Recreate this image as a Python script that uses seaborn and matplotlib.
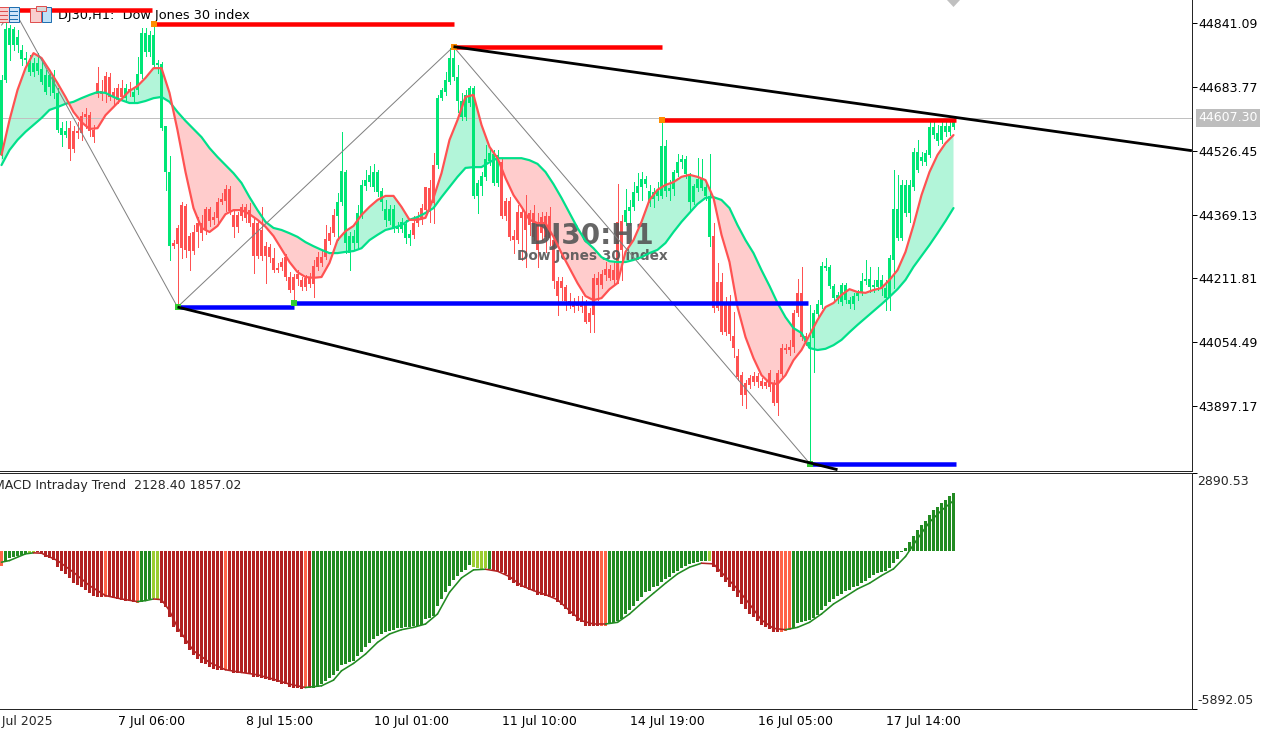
import numpy as np
import pandas as pd
import matplotlib
matplotlib.use('Agg')
import matplotlib.pyplot as plt
from matplotlib.patches import Rectangle, Polygon
import seaborn as sns

# candle prices, one value per H1 bar
body_high = [44701,44827,44829,44827,44807,44775,44755,44743,44743,44743,44728,44713,44713,44713,44669,44582,44575,44582,44575,44575,
44612,44617,44614,44577,44693,44674,44711,44708,44671,44681,44681,44681,44679,44671,44716,44817,44817,44812,44812,44743,
44740,44587,44474,44299,44336,44393,44390,44316,44326,44349,44349,44383,44383,44363,44400,44407,44432,44432,44368,44368,
44388,44388,44380,44349,44349,44331,44291,44289,44262,44237,44252,44265,44215,44215,44222,44208,44213,44215,44242,44265,
44265,44309,44324,44368,44400,44476,44474,44316,44316,44373,44442,44454,44467,44474,44474,44427,44383,44383,44383,44339,
44351,44346,44321,44349,44361,44385,44437,44435,44491,44656,44676,44701,44755,44755,44708,44649,44664,44681,44681,44447,
44464,44506,44521,44518,44516,44498,44402,44402,44316,44375,44375,44375,44373,44373,44351,44363,44366,44366,44306,44205,
44205,44191,44156,44146,44151,44153,44153,44127,44213,44213,44222,44235,44235,44232,44351,44353,44380,44388,44425,44440,
44457,44457,44427,44425,44430,44538,44538,44435,44474,44498,44506,44506,44467,44440,44457,44457,44437,44415,44316,44203,
44203,44146,44146,44070,44020,43973,43954,43966,43971,43971,43959,43956,43979,43954,43979,44040,44040,44042,44127,44176,
44176,44070,44055,44127,44148,44242,44242,44240,44193,44171,44195,44195,44158,44168,44176,44205,44210,44210,44195,44208,
44208,44188,44262,44383,44383,44442,44442,44442,44523,44523,44511,44521,44585,44585,44570,44587,44587,44587,44597]
body_low = [44516,44701,44787,44787,44787,44752,44750,44720,44720,44723,44696,44671,44683,44669,44577,44565,44565,44531,44531,44570,
44570,44609,44575,44560,44666,44666,44669,44659,44659,44651,44659,44656,44671,44659,44676,44716,44770,44770,44738,44738,
44582,44474,44291,44291,44296,44286,44282,44279,44279,44326,44324,44331,44353,44356,44361,44400,44402,44378,44339,44339,
44366,44361,44349,44267,44267,44267,44267,44265,44232,44232,44240,44215,44183,44183,44210,44191,44191,44198,44198,44240,
44250,44265,44304,44324,44366,44400,44299,44274,44299,44299,44368,44440,44449,44437,44425,44400,44356,44353,44333,44333,
44333,44311,44311,44319,44349,44356,44380,44375,44398,44491,44656,44671,44696,44708,44649,44609,44609,44644,44415,44415,
44440,44462,44501,44447,44447,44366,44366,44314,44306,44306,44361,44331,44343,44314,44282,44324,44314,44311,44205,44168,
44188,44156,44151,44141,44144,44141,44104,44104,44121,44195,44195,44220,44213,44208,44208,44282,44351,44378,44388,44422,
44437,44444,44398,44407,44415,44415,44427,44427,44432,44471,44498,44469,44400,44400,44435,44435,44415,44314,44139,44139,
44079,44079,44075,44040,43968,43924,43924,43949,43956,43956,43946,43946,43944,43904,43904,43976,44035,44035,44042,44127,
44067,44055,44040,44065,44124,44146,44237,44193,44163,44163,44153,44158,44148,44148,44168,44178,44205,44191,44191,44191,
44188,44163,44163,44257,44311,44311,44373,44373,44437,44479,44501,44498,44516,44565,44550,44553,44573,44573,44585]
wick_high = [44713,44849,44836,44831,44824,44787,44770,44762,44755,44767,44745,44725,44725,44725,44681,44597,44599,44599,44587,44597,
44622,44632,44622,44590,44733,44701,44720,44718,44681,44691,44701,44691,44696,44681,44757,44829,44829,44822,44836,44750,
44745,44587,44513,44306,44343,44400,44395,44323,44343,44363,44368,44388,44388,44375,44410,44422,44442,44440,44380,44375,
44395,44395,44398,44363,44356,44388,44301,44296,44287,44250,44262,44272,44227,44222,44232,44215,44220,44225,44257,44277,
44282,44343,44339,44383,44422,44573,44479,44326,44331,44393,44454,44479,44489,44494,44479,44435,44405,44393,44393,44351,
44361,44356,44331,44366,44375,44395,44437,44454,44521,44664,44681,44720,44780,44782,44738,44669,44676,44686,44686,44454,
44474,44540,44533,44528,44528,44508,44410,44412,44331,44393,44385,44417,44380,44393,44373,44375,44375,44388,44319,44215,
44215,44195,44176,44163,44168,44168,44158,44139,44222,44227,44232,44252,44245,44252,44444,44368,44432,44405,44449,44471,
44474,44464,44442,44435,44449,44605,44553,44454,44479,44518,44516,44513,44471,44444,44508,44506,44449,44518,44349,44250,
44225,44166,44171,44129,44037,43981,43961,43973,43981,43979,43966,43964,43986,43961,43986,44050,44050,44060,44134,44210,
44240,44077,44146,44134,44158,44252,44262,44245,44198,44178,44200,44200,44166,44176,44183,44225,44257,44240,44208,44240,
44220,44208,44269,44479,44467,44454,44454,44454,44533,44553,44523,44528,44602,44602,44590,44602,44602,44602,44607]
wick_low = [44508,44696,44750,44775,44770,44738,44735,44713,44711,44716,44691,44666,44664,44656,44573,44538,44560,44503,44523,44558,
44553,44582,44563,44548,44659,44651,44646,44651,44641,44644,44651,44651,44661,44646,44666,44706,44760,44760,44730,44718,
44577,44430,44257,44287,44146,44262,44265,44232,44272,44289,44306,44321,44341,44346,44351,44395,44378,44370,44314,44326,
44356,44351,44341,44225,44262,44257,44200,44252,44227,44227,44232,44208,44178,44156,44195,44183,44183,44191,44166,44232,
44242,44259,44296,44316,44306,44393,44274,44232,44282,44287,44361,44430,44440,44427,44415,44380,44341,44346,44326,44326,
44326,44299,44294,44311,44341,44346,44366,44351,44349,44484,44651,44664,44691,44701,44622,44602,44602,44637,44410,44373,
44417,44454,44491,44442,44440,44361,44356,44306,44274,44299,44257,44240,44319,44306,44240,44306,44277,44294,44188,44121,
44158,44134,44139,44129,44134,44129,44102,44079,44079,44158,44188,44208,44208,44195,44200,44208,44343,44343,44380,44405,
44405,44437,44390,44388,44405,44410,44415,44405,44417,44464,44484,44459,44375,44395,44427,44430,44405,44291,44129,44134,
44075,44072,44060,44018,43961,43899,43892,43941,43949,43944,43941,43941,43934,43899,43875,43971,44028,44023,44030,44119,
44060,44047,43759,43981,44114,44139,44232,44188,44158,44151,44146,44151,44139,44136,44158,44171,44198,44178,44178,44183,
44171,44134,44134,44188,44306,44306,44366,44351,44430,44474,44491,44491,44511,44558,44540,44545,44563,44565,44580]
candle_runs = [('G',17),('R',14),('G',1),('R',1),('G',10),('R',41),('G',19),('R',6),('G',16),('R',31),('G',22),('R',24),('G',37)]

# moving averages, one value every second bar
ma_step = 2
fast_ma = [44516,44602,44676,44730,44767,44755,44725,44693,44659,44622,44597,44580,44582,44614,44634,44654,44674,44686,44706,44730,
44730,44669,44577,44474,44385,44336,44326,44341,44370,44380,44380,44370,44356,44339,44316,44284,44252,44227,44215,44213,
44215,44250,44306,44328,44341,44368,44388,44405,44415,44415,44388,44356,44356,44361,44410,44471,44553,44602,44659,44664,
44590,44536,44508,44459,44417,44388,44356,44348,44348,44314,44274,44237,44200,44168,44158,44163,44185,44200,44277,44306,
44351,44405,44430,44442,44449,44462,44467,44462,44454,44410,44319,44252,44141,44067,44015,43973,43954,43951,43973,44010,
44035,44072,44109,44141,44151,44171,44185,44178,44176,44183,44188,44208,44232,44277,44343,44417,44474,44516,44545,44565]
slow_ma = [44491,44528,44553,44573,44590,44607,44627,44634,44642,44647,44656,44664,44671,44669,44659,44651,44644,44644,44649,44656,
44659,44647,44622,44600,44580,44560,44533,44511,44491,44471,44447,44412,44380,44351,44336,44331,44323,44314,44301,44291,
44282,44274,44274,44277,44279,44286,44306,44319,44331,44336,44343,44356,44363,44373,44385,44412,44437,44462,44484,44486,
44486,44498,44508,44508,44508,44508,44503,44494,44474,44444,44410,44373,44336,44304,44286,44264,44254,44252,44252,44257,
44264,44274,44282,44299,44326,44351,44373,44395,44410,44412,44405,44385,44343,44306,44274,44232,44193,44151,44116,44089,
44077,44040,44035,44038,44047,44060,44079,44097,44114,44131,44148,44166,44185,44208,44240,44267,44294,44323,44353,44385]

# zigzag, trend lines and support / resistance levels
zigzag_bar = [0, 3, 44, 113, 202]
zigzag_price = [44836, 44876, 44141, 44783, 43756]
upper_trend_bar = [113, 297.6]
upper_trend_price = [44783, 44526.45]
lower_trend_bar = [44, 209]
lower_trend_price = [44141, 43740]
red_start = [-1, 38, 113, 165]
red_end = [37.5, 113, 165, 238.5]
red_price = [44873, 44838, 44783, 44603]
blue_start = [44, 73, 202]
blue_end = [73, 201.5, 238.5]
blue_price = [44140, 44152, 43753]
high_mark_bar = [38, 113, 165]
high_mark_price = [44838, 44783, 44603]
low_mark_bar = [44, 73, 202]
low_mark_price = [44140, 44152, 43753]
last_price = 44607.30

# MACD Intraday Trend histogram, one value per bar
macd_hist = [-561,-399,-274,-224,-187,-150,-125,-87,-75,-62,-125,-224,-274,-349,-598,-748,-872,-1022,-1196,-1296,
-1371,-1470,-1595,-1695,-1744,-1744,-1744,-1719,-1769,-1807,-1832,-1869,-1894,-1906,-1956,-1906,-1869,-1807,-1782,-1807,
-1956,-2118,-2492,-2841,-3053,-3240,-3489,-3701,-3900,-4050,-4199,-4236,-4361,-4423,-4448,-4461,-4448,-4486,-4560,-4560,
-4560,-4573,-4610,-4735,-4735,-4760,-4810,-4834,-4884,-4922,-4984,-4996,-5084,-5109,-5109,-5171,-5109,-5109,-5109,-5084,
-4984,-4859,-4760,-4635,-4486,-4261,-4236,-4174,-4137,-3950,-3800,-3613,-3464,-3302,-3177,-3115,-3028,-2990,-2953,-2903,
-2891,-2866,-2866,-2804,-2804,-2766,-2554,-2517,-2430,-2056,-1807,-1558,-1308,-1096,-935,-810,-710,-536,-623,-648,
-685,-648,-685,-710,-748,-810,-872,-1096,-1221,-1308,-1371,-1408,-1470,-1520,-1645,-1645,-1682,-1744,-1744,-1906,
-2031,-2180,-2367,-2455,-2617,-2654,-2804,-2828,-2828,-2828,-2828,-2804,-2741,-2716,-2617,-2554,-2367,-2218,-2056,-1869,
-1719,-1558,-1495,-1371,-1308,-1184,-1059,-972,-847,-748,-648,-561,-498,-461,-436,-399,-374,-399,-623,-785,
-997,-1159,-1346,-1495,-1744,-1994,-2180,-2367,-2492,-2642,-2766,-2841,-2928,-3053,-3053,-3053,-3015,-2965,-2903,-2716,
-2679,-2617,-2579,-2529,-2392,-2205,-2056,-1931,-1807,-1682,-1620,-1520,-1458,-1371,-1308,-1209,-1121,-1034,-897,-847,
-810,-748,-648,-473,-312,-62,100,312,524,748,934,1096,1308,1495,1620,1782,1869,2019,2128.40]
macd_runs = [('o',1),('g',6),('l',2),('r',17),('o',1),('r',7),('o',1),('g',3),('l',2),('r',16),('o',1),('r',19),('o',1),('r',1),
('g',40),('l',4),('g',1),('r',27),('o',2),('g',25),('l',1),('r',17),('o',3),('g',41)]
signal_bar = [0,2,4,6,8,10,14,18,22,26,30,34,36,38,40,42,44,48,52,56,60,64,68,72,76,80,83,85,88,91,94,97,100,103,106,109,112,115,118,121,
124,127,130,133,136,139,142,145,148,151,154,157,160,163,166,169,172,175,178,181,184,187,190,193,196,199,202,205,208,211,214,217,220,223,226,229,232,235,238]
signal_value = [-436,-374,-249,-125,-87,-100,-374,-810,-1308,-1682,-1807,-1906,-1869,-1807,-1832,-2243,-2866,-3738,-4174,-4448,-4548,-4635,-4797,-4984,-5109,-5046,-4834,-4486,-4211,-3863,-3427,-3115,-2953,-2866,-2741,-2367,-1558,-1022,-723,-698,
-773,-972,-1308,-1495,-1645,-1832,-2243,-2617,-2741,-2741,-2679,-2367,-1969,-1595,-1221,-872,-623,-473,-498,-972,-1433,-1994,-2592,-2903,-2953,-2866,-2679,-2367,-1994,-1719,-1433,-1221,-935,-685,-224,436,1059,1495,1857.02]

# axis labels
price_ticks = [44841.09, 44683.77, 44526.45, 44369.13, 44211.81, 44054.49, 43897.17]
macd_ticks = [2890.53, -5892.05]
time_bars = [-3, 29, 61, 93, 125, 157, 189, 221]
time_labels = ['4 Jul 2025', '7 Jul 06:00', '8 Jul 15:00', '10 Jul 01:00', '11 Jul 10:00', '14 Jul 19:00', '16 Jul 05:00', '17 Jul 14:00']

W, H = 1276, 730
CANDLE = {'G': '#00E676', 'R': '#FF5252'}
TREND = {'g': '#228B22', 'l': '#9ACD32', 'r': '#B22222', 'o': '#FF6347'}
px = 0.72  # one screen pixel in points at dpi 100

sns.set_style('white')
plt.rcParams['font.family'] = ['DejaVu Sans']
plt.rcParams['axes.linewidth'] = px

fig = plt.figure(figsize=(W / 100, H / 100), dpi=100, facecolor='white')
ax = fig.add_axes([0, 1 - 470.5 / H, 1192 / W, 470.5 / H])
ax2 = fig.add_axes([0, 1 - 708.5 / H, 1192 / W, 235.5 / H])

# --- price pane
n_bars = len(body_high)
bars = np.arange(n_bars)
candle_code = np.repeat([c for c, _ in candle_runs], [k for _, k in candle_runs])
candle_colors = [CANDLE[c] for c in candle_code]
ma = pd.DataFrame({'bar': bars[::ma_step], 'fast': fast_ma, 'slow': slow_ma})

ax.fill_between(ma['bar'], ma['fast'], ma['slow'], where=ma['fast'] >= ma['slow'], interpolate=True,
                color='#B2F5D9', linewidth=0, zorder=1)
ax.fill_between(ma['bar'], ma['fast'], ma['slow'], where=ma['fast'] <= ma['slow'], interpolate=True,
                color='#FFCCCC', linewidth=0, zorder=1)
ax.axhline(last_price, color='#C0C0C0', linewidth=px, zorder=1.5)
ax.vlines(bars, wick_low, wick_high, colors=candle_colors, linewidth=px, zorder=2, antialiased=False)
ax.bar(bars, np.array(body_high) - np.array(body_low), bottom=body_low, width=0.8, color=candle_colors,
       linewidth=0, zorder=2.1, antialiased=False)

ax.text(590 / 4, 44898 - 236 * 2.4655, 'DJ30:H1', family='DejaVu Sans', weight='bold', fontsize=20,
        color='#555555', alpha=0.9, ha='center', va='center', zorder=2.5)
ax.text(591 / 4, 44898 - 256 * 2.4655, 'Dow Jones 30 index', family='DejaVu Sans', weight='bold', fontsize=9.8,
        color='#555555', alpha=0.9, ha='center', va='center', zorder=2.5)

sns.lineplot(data=ma, x='bar', y='slow', ax=ax, color='#00E08A', linewidth=2.2 * px, errorbar=None, zorder=3)
sns.lineplot(data=ma, x='bar', y='fast', ax=ax, color='#FF5252', linewidth=2.2 * px, errorbar=None, zorder=3.1)

ax.plot(zigzag_bar, zigzag_price, color='#808080', linewidth=px, zorder=3.5)
ax.hlines(red_price, red_start, red_end, colors='#FF0000', linewidth=4.5 * px, capstyle='butt', zorder=5)
ax.hlines(blue_price, blue_start, blue_end, colors='#0000FF', linewidth=4.5 * px, capstyle='butt', zorder=5)
ax.plot(upper_trend_bar, upper_trend_price, color='black', linewidth=2.8 * px, solid_capstyle='butt', zorder=6)
ax.plot(lower_trend_bar, lower_trend_price, color='black', linewidth=2.8 * px, solid_capstyle='butt', zorder=6)
ax.scatter(high_mark_bar, high_mark_price, marker='s', s=20, color='#FF8C00', linewidth=0, zorder=5.5)
ax.scatter(low_mark_bar, low_mark_price, marker='s', s=20, color='#32CD32', linewidth=0, zorder=5.5)

ax.set_xlim(-0.375, 297.625)
ax.set_ylim(44898 - 470.5 * 2.4655, 44898)
ax.set_xticks([])
ax.yaxis.tick_right()
ax.set_yticks(price_ticks, [f'{p:.2f}' for p in price_ticks])
ax.set_xlabel('')
ax.set_ylabel('')

ax.text(58 / 4 - 0.375, 44898 - 15 * 2.4655, 'DJ30,H1:  Dow Jones 30 index', fontsize=9.3, color='black', va='center', zorder=4)
ax.annotate(f'{last_price:.2f}', xy=(1, last_price), xycoords=ax.get_yaxis_transform(), xytext=(6 * px, 0),
            textcoords='offset points', fontsize=9, color='white', va='center', annotation_clip=False,
            bbox=dict(boxstyle='square,pad=0.2', facecolor='#BDBDBD', edgecolor='none'))

# --- MACD pane
trend_code = np.repeat([c for c, _ in macd_runs], [k for _, k in macd_runs])
macd = pd.DataFrame({'bar': bars, 'hist': macd_hist, 'trend': trend_code})
sns.barplot(data=macd, x='bar', y='hist', hue='trend', palette=TREND, native_scale=True, dodge=False, width=0.8,
            saturation=1, legend=False, ax=ax2, linewidth=0, zorder=2)
for patch in ax2.patches:
    patch.set_antialiased(False)
for i in range(len(signal_bar) - 1):
    code = trend_code[signal_bar[i + 1]]
    ax2.plot(signal_bar[i:i + 2], signal_value[i:i + 2], color='#B22222' if code in 'ro' else '#228B22',
             linewidth=1.6 * px, solid_capstyle='round', zorder=3)

ax2.set_xlim(-0.375, 297.625)
ax2.set_ylim(macd_ticks[1], macd_ticks[0])
ax2.set_xlabel('')
ax2.set_ylabel('')
ax2.yaxis.tick_right()
ax2.set_yticks(macd_ticks, ['', ''])
ax2.set_xticks(time_bars[1:], time_labels[1:], ha='left')
ax2.annotate(f'{macd_ticks[0]:.2f}', xy=(1, macd_ticks[0]), xycoords=ax2.get_yaxis_transform(), xytext=(5 * px, -2 * px),
             textcoords='offset points', fontsize=9, va='top', annotation_clip=False)
ax2.annotate(f'{macd_ticks[1]:.2f}', xy=(1, macd_ticks[1]), xycoords=ax2.get_yaxis_transform(), xytext=(5 * px, 1 * px),
             textcoords='offset points', fontsize=9, va='bottom', annotation_clip=False)
ax2.text(241 / 4 - 0.375, 2890.53 - 12 * 37.37, 'MACD Intraday Trend  2128.40 1857.02', fontsize=9, ha='right', va='center', zorder=4)
ax2.text(time_bars[0], macd_ticks[1], time_labels[0], fontsize=9, ha='left', va='top', clip_on=False,
         transform=ax2.transData + matplotlib.transforms.ScaledTranslation(0, -7 / 100, fig.dpi_scale_trans))

for a in (ax, ax2):
    a.tick_params(length=5 * px, width=px, labelsize=9, color='black', labelcolor='black', pad=1)
    a.spines['left'].set_visible(False)
    a.spines['right'].set_visible(True)
ax.spines['top'].set_visible(False)
ax2.spines['top'].set_visible(True)

# --- toolbar icons and the scroll marker, in screen pixels
def box(x0, y0, x1, y1, **kw):
    fig.add_artist(Rectangle((x0 / W, 1 - y1 / H), (x1 - x0) / W, (y1 - y0) / H, transform=fig.transFigure, **kw))

box(-1, 7, 9, 22, facecolor='#F8CFCF', edgecolor='#E05050', linewidth=px)
box(9, 7, 19, 22, facecolor='#CFE4F8', edgecolor='#1F6FB0', linewidth=px)
for yy in (11, 15, 19):
    box(0, yy, 8, yy + 1, facecolor='#E05050', edgecolor='none')
    box(10, yy, 18, yy + 1, facecolor='#1F6FB0', edgecolor='none')
box(30, 8, 41, 22, facecolor='#F8CFCF', edgecolor='#E05050', linewidth=px)
box(42, 7, 51, 22, facecolor='#BFE0F8', edgecolor='#1F6FB0', linewidth=px)
box(36, 6, 46, 11, facecolor='#D8D8D8', edgecolor='#E05050', linewidth=px)
fig.add_artist(Polygon([[947 / W, 1], [960 / W, 1], [953.5 / W, 1 - 7 / H]], closed=True, transform=fig.transFigure,
                       facecolor='#C0C0C0', edgecolor='none'))

fig.savefig('out.png', dpi=100, facecolor='white')
